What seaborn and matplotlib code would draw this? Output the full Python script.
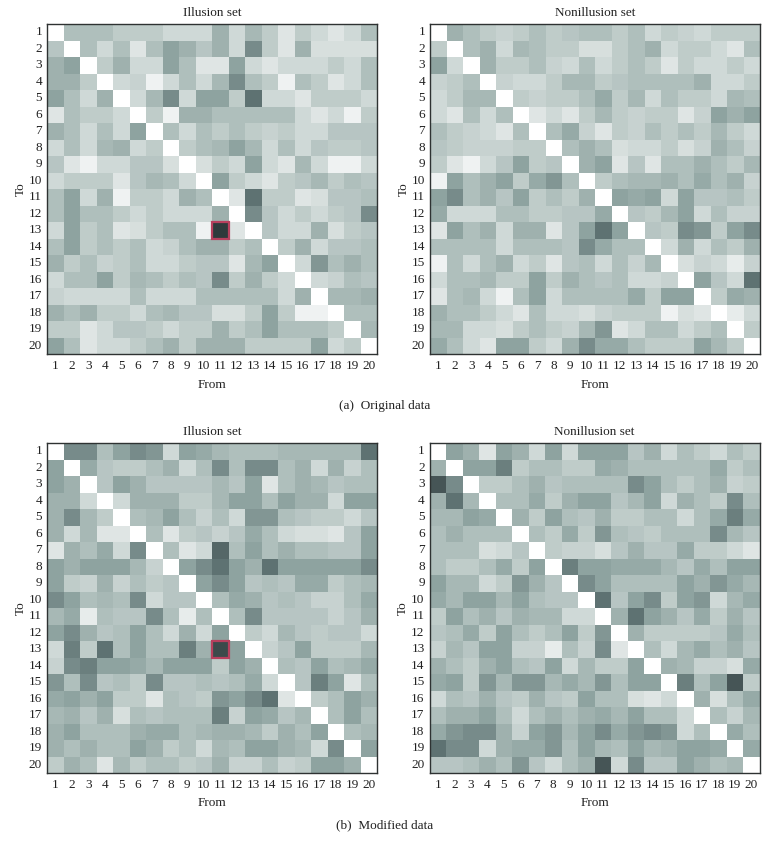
import numpy as np
import matplotlib
matplotlib.use('Agg')
from matplotlib import pyplot as plt
from matplotlib.colors import LinearSegmentedColormap
from matplotlib.patches import Rectangle
import seaborn as sns

sns.set_theme(style='white')
plt.rcParams['font.family'] = ['Liberation Serif', 'DejaVu Serif']

labels = list(range(1, 21))

orig_illusion = [
    [0,5,5,5,4,4,4,3,3,3,6,3,5.5,4,2,4,3,2,3,5],
    [4.5,0,5,3,5,2,5,7,6,4.5,6,3,8,4,2,6,2.5,2.5,2.5,2.5],
    [6,7,0,4,6,3,3,7,5,2,2,7,3,2,3,3,3,4,3,5],
    [6,6,4,0,3,3.5,1,3,5,3,5.5,8,5,4,1,5,4,2,3,5],
    [7,5,3,6,0,3,5.5,8,3,7,7,4,9,3,3,2,4,4,4,3],
    [2,5,4,4,3,0,4,1,6,6,5,5,5,5,5,3,2,3,1,4],
    [6,5,3,5,3,7,0,5,3,5,4,5,4,3.5,4,3,3,4.5,4.5,4.5],
    [3,5,3,5.5,6,3,4,0,4,5,5.5,7,5.5,3,5,3,4.5,4,4,4.5],
    [4.5,2,1,3,3,4.5,4.5,2.5,0,2.5,4,3,7,3,2,5.5,3,1,1,3],
    [3,4,4,4,2,4.5,5.5,5,3,0,7,4,3,2,4,4.5,5.5,4,5,4.5],
    [5,7,3,6,1,4,4,3,6,5,0,2,9,4,4,2,2.5,4.5,4.5,5],
    [5,7,5,5,4,3,4,3,3,3,6,0,8,4.5,3,4,3,4,4.5,8],
    [3,7,4,5,2,2.5,4,5,5,1,10,2,0,4.5,3,3,6,2.5,4,4.5],
    [5,7,4,5,4,5,3,3.5,5,6,6,4,5,0,4,6,3,4.5,4.5,5],
    [6,4,5,3.5,4,5,3,3,4,4.5,4.5,2,5.5,7,0,3,7.5,5,6,5],
    [3,5,5,7,4,5.5,5,4,5,4.5,8,4,6,4,3,0,3,3.5,5,4.5],
    [3.5,3,3,3,3,5,3,3,3,5,5,5,5,5,3,6,0,5.5,5.5,6],
    [6,5,6,4,4,3,5,5.5,4.5,4.5,2.5,2.5,4,7,4,1,1,0,5,5],
    [4,4,2,3,4.5,4.5,4,3,4,4,6,4,5,7,5,5,5,4,0,5.5],
    [7,5,2,3,3,4,5,6,4,6,6,6,4,4,4,4,7,3,4,0],
]
orig_nonillusion = [
    [0,6,5,4,3.5,4,5,4,4.5,5,5,4,5,3,4,3.5,3,4,4,4],
    [4,0,5,6,3,5.5,5,4,4,2.5,2.5,4,5,6,3,4,4,3,2,5],
    [7,3,0,6,4,4,5,3.5,3,5,3,4,5,4,2,4,3,3,4,3],
    [3.5,4,5,0,3.5,3,3,4,5.5,5.5,4,4.5,5,5,5,5,6,3,3,4],
    [3,4,5.5,5.5,0,4,3.5,4,4,5,6.5,4,5.5,3,5,4,4,3,5.5,5],
    [3,2,5,3,5,0,2,3,2,4,5.5,4,3.5,4,4,2,3.5,7,6,7],
    [5,4,3.5,3,2,5,0,5,6.5,3.5,2,4,3.5,5,4,5,4,5.5,4,3],
    [4.5,4,3.5,3.5,3.5,4,4,0,5,6,5,2.5,3,3,4,2.5,3.5,6,5,3.5],
    [4,2,1,3,4.5,7,4,4.5,0,6,7,2,4.5,2,5,5,6,5,4,5.5],
    [1,7,5,6,7,4,6.5,7.5,5,0,4,5,5.5,5.5,6,5,6.5,5,6,3.5],
    [7,8,5,6,4.5,7,4,5,4,6,0,7,6.5,7,3,7,4.5,4.5,5,4],
    [6.5,3,3,3,5,5,4,4,4.5,4.5,6.5,0,4.5,4,5.5,7,3,5,3.5,3.5],
    [2,7,5,6,3,6,6,2,4.5,7,9,7,0,4.5,4,8,7.5,4,7,8],
    [5,5,5,5,3,5,5,5,4.5,8,6.5,5,5,0,3,6,3,5,4,6],
    [1,5,3,5,6,3,4,2,4.5,5,3,5,3.5,5.5,0,2.5,3.5,3,1.5,3.5],
    [3,5,5,5.5,4,4,7,4,6,5,4.5,5,3,3,3.5,0,7,4.5,3,9],
    [2,5,5.5,3,1,5,7,3,5,5,5,5,6.5,4,7,7,0,4,6.5,6],
    [6,5,5,4,3,2,5,3,3,2.5,3.5,4,4,4,1,2.5,2,0,1.5,3],
    [5.5,5.5,3,3,2.5,4,5,4,3.5,5.5,7.5,2,3,5,5,3,4,5,0,4],
    [6.5,5,3,2,7,7,4,3,6,8,6.5,6.5,5,4,4,4,7,5.5,4,0],
]
mod_illusion = [
    [0,8,8,5,7,8,7.5,3,7,6.5,5.5,5,5,5,5.5,5.5,5.5,5.5,5.5,9],
    [7,0,6.5,4.5,4,4,5,6,3,5,8,5,8,8,5,6,3,6,3.5,5],
    [7,6,0,4.5,7,6,4.5,4.5,4.5,4.5,5.5,4.5,7,2,5,6,5.5,4.5,5,5],
    [6,6,3,0,3,6,6,6,4,4,5.5,7,7,5,7,6,6,3,7,7],
    [6,8,5.5,4,0,5,5.5,7,5,3.5,5,3,7.5,7.5,5,4.5,4,4,3,4.5],
    [6,3,5.5,2,2,0,5,2,4,4.5,3.5,4.5,6.5,5,3,2.5,2.5,2,4.5,7],
    [2,6,5,6.5,3,8,0,5,2,3,9.2,5,7,5,6,5,5,4.5,4.5,7],
    [7,6,7,7,7,5.5,3.5,0,7,8,9,7,6,9,7,7,7,7,7,8],
    [7,4,3.5,6,3.5,5,4,4.5,0,7,8,7,4.5,5,4.5,6.5,6.5,4,5,5.5],
    [8,7,5,5.5,5,8,3,4.5,4.5,0,5,6.5,6,4.5,5,4.5,3.5,3.5,5,6.5],
    [5.5,6.5,1.5,5,4.5,4.5,8,5,1.5,5,0,5,8,4.5,4.5,4.5,4.5,3.5,4.5,6],
    [7,8,6,4.5,5,7,5,3,6,3,7,0,4,3,5.5,4.5,4,4.5,4.5,3],
    [3,8.5,4,9,5,7,5,5,8.5,6,9.7,7,0,3.5,4.5,7,4,4,4,5.5],
    [3.5,8,8.5,7,7,6.5,5.5,7,7,7,4,7,6,0,5,4.5,7,5,5.5,6.5],
    [7.5,5,8,4.5,5,4,8,4.5,4.5,5,4.5,5,6.5,3,0,4.5,8.5,7,2,5],
    [6.5,7,6,7,4,4,2,5,4.5,4,7.5,7,8,9,2,0,4,5,7,6],
    [5.5,6,4.5,6,2.5,5,4.5,5,5,5,8.5,3.5,7,6.5,4.5,5.5,0,5,7,5],
    [6,7,5,5,5,6,6.5,6.5,5,5.5,6,6,5.5,4,6,5,7,0,5,5.5],
    [6,5,6,5,5,7,6,4,5,3,5.5,5,7,7,6,5.5,3,8,0,7],
    [4,6,5,2,5.5,4,5,5,4,4.5,6,3.5,3.5,5,3.5,4,7,7,6,0],
]
mod_nonillusion = [
    [0,7,6,2,7,6,3,7,3,7,7,7,4.5,6,3,5,4,3,5,4],
    [6,0,7,7,8.5,4,5,5,4,4,6.5,6,5,5,5,5,5,6.5,4,5],
    [9.5,8,0,4,4,5,6,4.5,5,5,5,5,8,7,5,4,5,6,3.5,4],
    [6,9,5.5,0,5,5,6.5,4,6,7,7,4.5,5.5,7,3,6,5,4,8,5],
    [5.5,5.5,7,6.5,0,6,4,7,5,4.5,6,4,4,5,5,3,5,6.5,8.5,6.5],
    [5,6,5,5,5,0,5,4,6.5,4,7.5,5,4.5,4,5,5,5,8,5.5,4.5],
    [5,5,5,2.5,3,4.5,0,4,3.5,3.5,2.5,4.5,6,4.5,4.5,6.5,4,4,3,2],
    [5,4,4,5,6.5,4,7,0,8.5,7,7,6.5,6.5,6.5,5.5,4.5,6.5,5,7,7],
    [7,5.5,5.5,3,4,7.5,6,4.5,0,8,7,5,5,5,5,7,6,7.5,6.5,5.5],
    [6.5,5.5,7,7,5.5,7,5,4.5,4.5,0,9,4.5,7,8,4,7,7.5,3,5.5,6.5],
    [4,7,5,6,4.5,6,5.5,5.5,3,3,0,6,9,7,6,4.5,6.5,4,6,4.5],
    [4.5,5,6.5,4,7,5,4,5,7,4,7.5,0,6,4,4,4,4,4.5,6.5,5],
    [3.5,5.5,4.5,7,7,3.5,3.5,1.5,5,3.5,8,2,0,5,3,5.5,6.5,5,6,4.5],
    [6,5,4,6,7,5,4.5,7,3,5.5,4,4,7,0,6,5.5,3.5,3.5,2.5,6.5],
    [6.5,7,4,7.5,5.5,7.5,7.5,5.5,6.5,5.5,7.5,5,7,7,0,8.5,5,7,9.5,4],
    [3,5,4.5,6,4.5,4,6,4.5,4,7,5,5,2.5,2,3,0,6,2.5,5,6.5],
    [5,6,6,7,5,3,5,6,5,6,6.5,5.5,7,5,5,3,0,5,3.5,5.5],
    [6.5,7.5,8,8,6,3.5,7,7.5,5.5,7,8,6.5,7.5,8,7.5,3,5,0,6.5,5],
    [9,8,8,3,6,6.5,6.5,7.5,5,7,5.5,5,7,5.5,6,7,7,6.5,0,6.5],
    [4.5,4.5,5,6,5,7.5,4.5,3,5,6,9.5,3,8,4.5,4.5,7,6,5,5.5,0],
]

# (row, col) of the red box in the illusion panels
hl_row, hl_col = 13, 11

cmap = LinearSegmentedColormap.from_list('shade', [
    (0.0, '#ffffff'), (0.5, '#afbfbc'), (0.7, '#8ea3a0'),
    (0.9, '#5f7373'), (1.0, '#2f3a3c')])

W, H = 769.0, 851.0
fig = plt.figure(figsize=(7.69, 8.51), dpi=100)

panels = [
    (orig_illusion, 'Illusion set', (47, 24, 330, 330), True),
    (orig_nonillusion, 'Nonillusion set', (430, 24, 330, 330), False),
    (mod_illusion, 'Illusion set', (47, 443, 330, 330), True),
    (mod_nonillusion, 'Nonillusion set', (429.5, 443, 330, 330), False),
]

for mat, title, (x, y, w, h), boxed in panels:
    ax = fig.add_axes([x / W, 1 - (y + h) / H, w / W, h / H])
    sns.heatmap(np.array(mat), ax=ax, cmap=cmap, vmin=0, vmax=10, cbar=False,
                xticklabels=labels, yticklabels=labels, linewidths=0)
    ax.tick_params(axis='both', direction='in', length=2.2, width=0.7,
                   top=True, right=True, bottom=True, left=True,
                   colors='#222222', labelsize=9.5, pad=4.5)
    ax.tick_params(axis='y', labelrotation=0, pad=3.5)
    ax.set_xlabel('From', fontsize=9.5, color='#222222', labelpad=4.5)
    ax.set_ylabel('To', fontsize=9.5, color='#222222', labelpad=1.5)
    ax.set_title(title, fontsize=9.5, color='#222222', pad=5.5)
    for s in ax.spines.values():
        s.set_visible(True)
        s.set_color('#2e3232')
        s.set_linewidth(1.0)
    if boxed:
        ax.add_patch(Rectangle((hl_col - 1, hl_row - 1), 1, 1, fill=False,
                               edgecolor='#b8405e', linewidth=1.6, clip_on=False))

fig.text(385 / W, 1 - 406 / H, '(a)  Original data', ha='center', va='center',
         fontsize=9.5, color='#222222')
fig.text(385 / W, 1 - 825 / H, '(b)  Modified data', ha='center', va='center',
         fontsize=9.5, color='#222222')

fig.savefig('out.png', dpi=100)
